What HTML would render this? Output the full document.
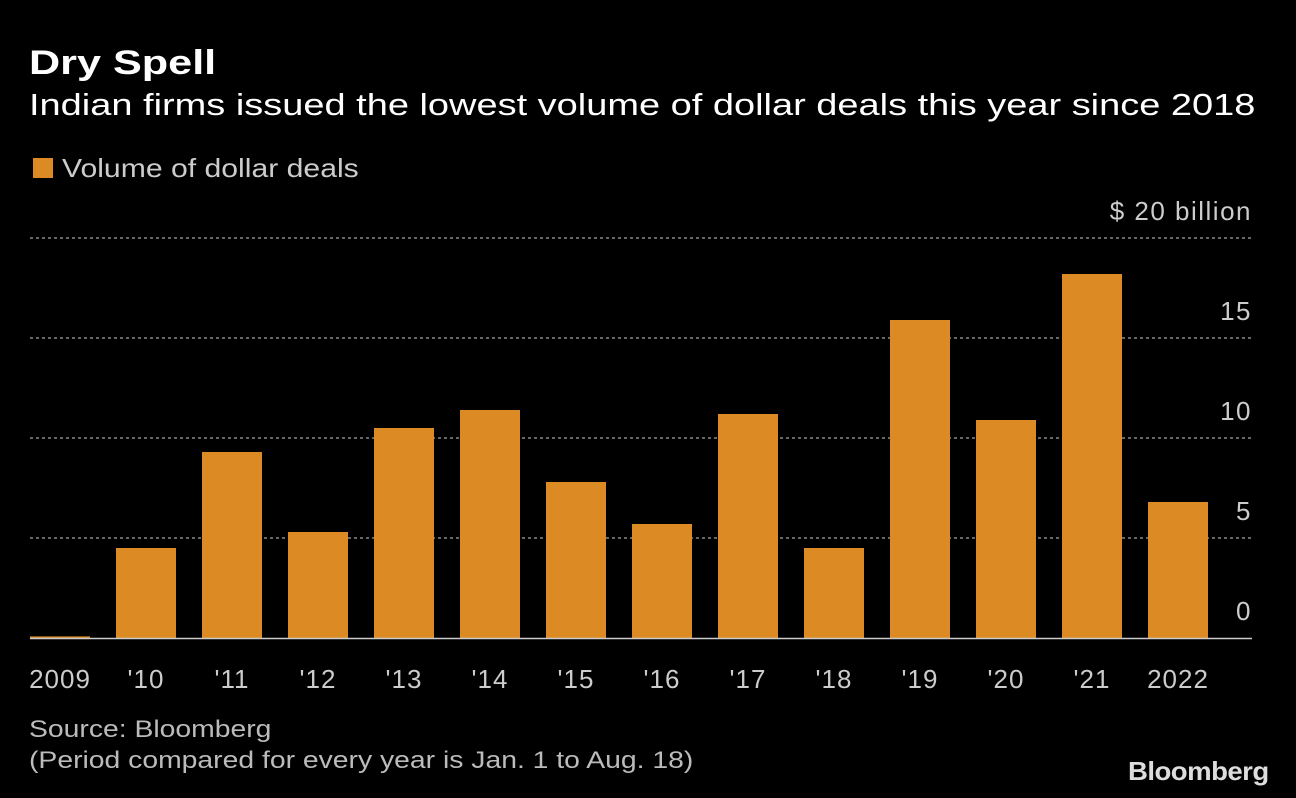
<!DOCTYPE html>
<html><head><meta charset="utf-8"><style>
body{margin:0;background:#000;width:1296px;height:798px;overflow:hidden;font-family:"Liberation Sans",sans-serif;color:#ddd}
.t{position:absolute;white-space:nowrap;transform-origin:0 0}
</style></head><body>
<div class="t" style="left:29px;top:44px;font-size:34px;font-weight:bold;color:#fff;transform:scaleX(1.27)">Dry Spell</div>
<div class="t" style="left:29px;top:87px;font-size:31px;color:#fff;transform:scaleX(1.225)">Indian firms issued the lowest volume of dollar deals this year since 2018</div>
<div class="t" style="left:33px;top:158px;width:20px;height:20px;background:#dc8a24"></div>
<div class="t" style="left:62px;top:153px;font-size:26px;color:#ccc;transform:scaleX(1.16)">Volume of dollar deals</div>
<svg width="1296" height="798" style="position:absolute;left:0;top:0" id="c"></svg>
<div class="t" style="left:29px;top:714px;font-size:24px;color:#bbb;line-height:31px;transform:scaleX(1.18)">Source: Bloomberg<br>(Period compared for every year is Jan. 1 to Aug. 18)</div>
<div class="t" style="left:1128px;top:756px;font-size:26px;font-weight:bold;color:#ddd;letter-spacing:-0.5px;transform:scaleX(1.06)">Bloomberg</div>
<script>
const categories=["2009","'10","'11","'12","'13","'14","'15","'16","'17","'18","'19","'20","'21","2022"];
const values=[0.08,4.5,9.3,5.3,10.5,11.4,7.8,5.7,11.2,4.5,15.9,10.9,18.2,6.8];
const yTicks=[0,5,10,15,20];
const yTickLabels=["0","5","10","15","$ 20 billion"];
const svg=document.getElementById('c');
const NS='http://www.w3.org/2000/svg';
const y=v=>638-v*20;
const xc=i=>60+86*i;
function mk(t,a){const e=document.createElementNS(NS,t);for(const k in a)e.setAttribute(k,a[k]);svg.appendChild(e);return e;}
yTicks.forEach((v,i)=>{
  if(v>0){const l=mk('line',{x1:30,x2:1252,y1:y(v),y2:y(v),stroke:'#888','stroke-dasharray':'3,3','stroke-width':1.5});
  
  }
  const t=mk('text',{x:1252,y:y(v)-18,'text-anchor':'end','font-size':26,fill:'#ccc','font-family':'Liberation Sans, sans-serif','letter-spacing':1.5});
  t.textContent=yTickLabels[i];
  
  
});
values.forEach((v,i)=>{
  const r=mk('rect',{x:xc(i)-30,y:y(v),width:60,height:638-y(v),fill:'#dc8a24'});
  
  
  const t=mk('text',{x:xc(i),y:688,'text-anchor':'middle','font-size':26,fill:'#ccc','font-family':'Liberation Sans, sans-serif','letter-spacing':1});
  t.textContent=categories[i];
  
  
});
const ax=mk('line',{x1:30,x2:1252,y1:638.5,y2:638.5,stroke:'#ccc','stroke-width':1.5});


</script>
</body></html>
